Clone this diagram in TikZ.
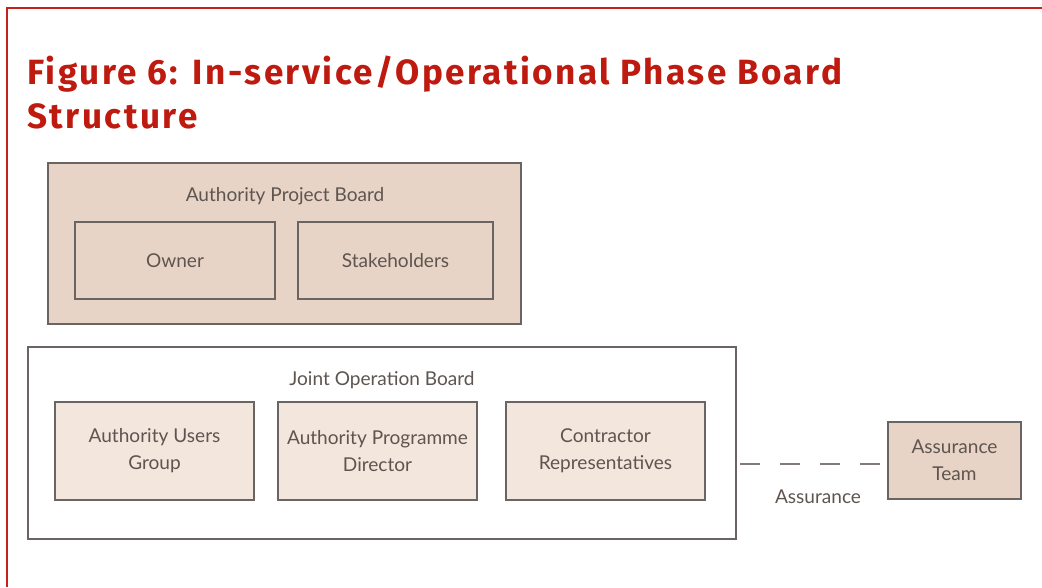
\documentclass[tikz,border=0pt]{standalone}
\usepackage{fontspec}
\setmainfont{Lato}
\newfontfamily\titlefont[LetterSpace=7]{Fira Sans Bold}
\definecolor{frame}{HTML}{C8201A}
\definecolor{titlered}{HTML}{BE1A10}
\definecolor{tan}{HTML}{E8D4C6}
\definecolor{lighttan}{HTML}{F3E6DD}
\definecolor{boxline}{HTML}{6A6462}
\definecolor{txt}{HTML}{5E5550}
\begin{document}
\begin{tikzpicture}[x=0.75pt,y=-0.75pt,
  box/.style={draw=boxline,line width=1.3pt,inner sep=0pt,align=center,text=txt,font=\fontsize{14.3}{20.25}\selectfont},
  lbl/.style={text=txt,font=\fontsize{14.3}{18}\selectfont,inner sep=0pt},
  assur/.style={draw=boxline!85,line width=1.5pt,dash pattern=on 15pt off 15pt}]
\useasboundingbox (0,0) rectangle (1042,587);
\draw[frame,line width=1.5pt] (1042,8) -- (7,8) -- (7,587);
\node[anchor=base west,inner sep=0pt,text=titlered,font=\titlefont\fontsize{26.3}{33}\selectfont,align=left] (title) at (27,84) {Figure 6: In-service/Operational Phase Board};
\node[anchor=base west,inner sep=0pt,text=titlered,font=\titlefont\fontsize{26.3}{33}\selectfont] (title2) at (27,128) {Structure};
% Authority Project Board
\node[box,fill=tan,minimum width=354.75pt,minimum height=120.75pt] (apb) at (284.5,243.5) {};
\node[lbl] (apbl) at (285,196) {Authority Project Board};
\node[box,fill=tan,minimum width=150pt,minimum height=57.75pt] (owner) at (175,260.5) {Owner};
\node[box,fill=tan,minimum width=146.25pt,minimum height=57.75pt] (stake) at (395.5,260.5) {Stakeholders};
% Joint Operation Board
\node[box,fill=white,minimum width=531pt,minimum height=144pt] (job) at (382,443) {};
\node[lbl] (jobl) at (382,380) {Joint Operation Board};
\node[box,fill=lighttan,minimum width=149.25pt,minimum height=73.5pt] (aug) at (154.5,451) {Authority Users\\Group};
\node[box,fill=lighttan,minimum width=149.25pt,minimum height=73.5pt] (apd) at (377.5,451) {Authority Programme\\Director};
\node[box,fill=lighttan,minimum width=149.25pt,minimum height=73.5pt] (cr) at (605.5,451) {Contractor\\Representatives};
% Assurance Team
\node[box,fill=tan,minimum width=99.75pt,minimum height=57.75pt] (at) at (954.5,460.5) {Assurance\\Team};
\coordinate (ds) at (740,464);
\coordinate (de) at (880,464);
\draw[assur] (ds) -- (de);
\node[lbl] (al) at (818,497) {Assurance};
\end{tikzpicture}
\end{document}
